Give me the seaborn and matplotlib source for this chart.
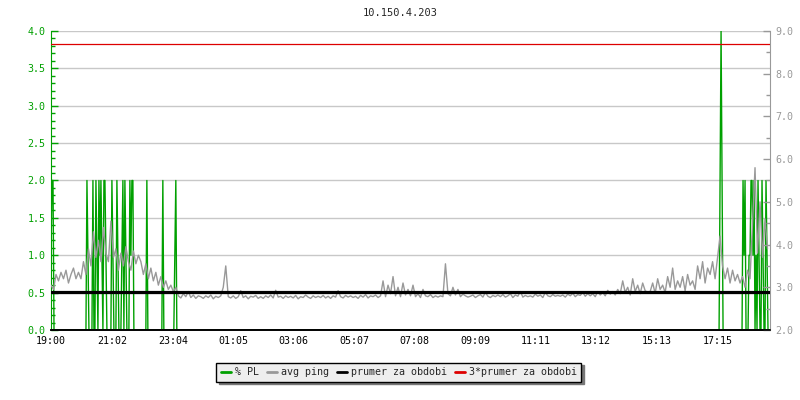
import numpy as np
import pandas as pd
import seaborn as sns
import matplotlib.pyplot as plt
from matplotlib.lines import Line2D
from matplotlib.ticker import MultipleLocator

# values
title = '10.150.4.203'
start_time = '19:00'
tick_labels = ['19:00', '21:02', '23:04', '01:05', '03:06', '05:07',
               '07:08', '09:09', '11:11', '13:12', '15:13', '17:15']

# avg ping (right axis), one value every 5 minutes, one row per hour from 19:00
ping_step = 5
avg_ping = [
    3.05, 2.95, 3.30, 3.15, 3.35, 3.20, 3.40, 3.10, 3.30, 3.45, 3.20, 3.35,
    3.20, 3.60, 3.30, 3.90, 3.50, 4.30, 3.70, 4.10, 3.60, 4.40, 3.80, 3.60,
    4.55, 3.70, 3.90, 3.40, 3.80, 3.50, 3.95, 3.60, 3.40, 3.85, 3.55, 3.75,
    3.60, 3.30, 3.55, 3.20, 3.45, 3.15, 3.35, 3.05, 3.25, 3.00, 3.15, 2.95,
    3.05, 2.90, 3.00, 2.80, 2.75, 2.85, 2.78, 2.90, 2.76, 2.82, 2.74, 2.80,
    2.78, 2.74, 2.80, 2.76, 2.82, 2.73, 2.79, 2.76, 2.80, 3.00, 3.50, 2.78,
    2.75, 2.80, 2.74, 2.78, 2.92, 2.76, 2.80, 2.73, 2.79, 2.77, 2.81, 2.74,
    2.78, 2.74, 2.80, 2.76, 2.82, 2.75, 2.93, 2.77, 2.79, 2.74, 2.80, 2.76,
    2.79, 2.75, 2.81, 2.73, 2.78, 2.76, 2.82, 2.77, 2.74, 2.80, 2.76, 2.79,
    2.76, 2.81, 2.75, 2.79, 2.74, 2.80, 2.77, 2.92, 2.78, 2.75, 2.81, 2.77,
    2.80, 2.76, 2.79, 2.74, 2.81, 2.77, 2.83, 2.75, 2.80, 2.78, 2.82, 2.76,
    2.80, 3.15, 2.78, 3.05, 2.85, 3.25, 2.80, 3.00, 2.78, 3.10, 2.82, 2.95,
    2.80, 3.05, 2.78, 2.85, 2.76, 2.95, 2.80, 2.78, 2.83, 2.76, 2.80, 2.77,
    2.80, 2.78, 3.55, 2.85, 2.80, 3.00, 2.82, 2.95, 2.78, 2.84, 2.80, 2.77,
    2.79, 2.82, 2.76, 2.80, 2.83, 2.77, 2.88, 2.79, 2.76, 2.81, 2.78, 2.82,
    2.78, 2.83, 2.77, 2.80, 2.85, 2.76, 2.82, 2.79, 2.90, 2.77, 2.81, 2.78,
    2.80, 2.77, 2.84, 2.79, 2.82, 2.76, 2.88, 2.80, 2.78, 2.83, 2.79, 2.81,
    2.79, 2.82, 2.77, 2.84, 2.80, 2.86, 2.78, 2.83, 2.81, 2.88, 2.79, 2.85,
    2.80, 2.85, 2.78, 2.90, 2.82, 2.88, 2.80, 2.93, 2.84, 2.90, 2.82, 2.95,
    2.85, 3.15, 2.88, 3.00, 2.82, 3.20, 2.90, 3.05, 2.85, 3.10, 2.92, 2.88,
    2.90, 3.10, 2.86, 3.20, 2.95, 3.05, 2.88, 3.25, 3.00, 3.45, 2.95, 3.15,
    3.00, 3.25, 2.92, 3.30, 3.05, 3.15, 2.95, 3.50, 3.20, 3.60, 3.10, 3.45,
    3.30, 3.60, 3.20, 3.70, 4.20, 3.50, 3.20, 3.45, 3.10, 3.40, 3.15, 3.30,
    3.10, 3.25, 3.00, 3.40, 3.20, 4.50, 5.80, 3.80, 5.00, 3.70, 4.60, 3.90,
]

# packet loss spikes (left axis): minute after 19:00, % PL
pl_minutes = [0, 2, 4, 72, 74, 84, 90, 92, 96, 98, 100, 102, 106, 108, 110,
              122, 124, 132, 134, 142, 144, 148, 150, 158, 160, 162, 164,
              192, 224, 248, 250,
              1340, 1342, 1344, 1386, 1388, 1390, 1398, 1400, 1402, 1404,
              1406, 1408, 1412, 1416, 1418, 1424, 1426, 1432, 1434]
pl_values = [1.0, 2.0, 2.0, 2.0, 1.0, 2.0, 2.0, 1.0, 2.0, 1.0, 2.0, 1.0, 2.0, 2.0, 1.0,
             2.0, 1.0, 2.0, 1.0, 1.0, 2.0, 2.0, 1.0, 2.0, 1.0, 2.0, 2.0,
             2.0, 2.0, 1.0, 2.0,
             2.0, 4.0, 2.0, 2.0, 1.0, 2.0, 1.0, 1.0, 2.0, 2.0,
             1.0, 2.0, 1.0, 2.0, 1.0, 2.0, 1.0, 2.0, 1.0]

ping_mean = 2.9          # prumer za obdobi
period_minutes = 1440

GREEN = '#00a000'
GRAY = '#999999'
RED = '#dd0000'
MONO = 'DejaVu Sans Mono'


def minutes_after_start(label):
    h, m = map(int, label.split(':'))
    h0, m0 = map(int, start_time.split(':'))
    return ((h * 60 + m) - (h0 * 60 + m0)) % period_minutes


ping_df = pd.DataFrame({'minute': np.arange(len(avg_ping)) * ping_step,
                        'ping': avg_ping})

pl_grid = np.arange(0, period_minutes, 2)
pl_series = pd.Series(0.0, index=pl_grid)
for m, v in zip(pl_minutes, pl_values):
    pl_series[m] = v
pl_df = pd.DataFrame({'minute': pl_series.index, 'pl': pl_series.values})

sns.set_style('white')
plt.rcParams['font.family'] = [MONO, 'DejaVu Sans']
plt.rcParams['font.size'] = 7.2

fig = plt.figure(figsize=(8, 4), dpi=100)
ax = fig.add_axes([51 / 800, 70 / 400, 719 / 800, 299 / 400])
ax2 = ax.twinx()

sns.lineplot(data=pl_df, x='minute', y='pl', ax=ax, color=GREEN,
             linewidth=1.0, legend=False)
sns.lineplot(data=ping_df, x='minute', y='ping', ax=ax2, color=GRAY,
             linewidth=1.0, legend=False)
ax2.axhline(ping_mean, color='black', linewidth=2.3, zorder=5)
ax2.axhline(3 * ping_mean, color=RED, linewidth=0.9, zorder=5)

ax.set_xlim(0, period_minutes)
ax.set_ylim(0, 4.0)
ax2.set_ylim(2.0, 9.0)

ax.set_xticks([minutes_after_start(t) for t in tick_labels])
ax.set_xticklabels(tick_labels)
ax.yaxis.set_major_locator(MultipleLocator(0.5))
ax.yaxis.set_minor_locator(MultipleLocator(0.1))
ax.yaxis.set_major_formatter(plt.FormatStrFormatter('%.1f'))
ax2.yaxis.set_major_locator(MultipleLocator(1.0))
ax2.yaxis.set_minor_locator(MultipleLocator(0.5))
ax2.yaxis.set_major_formatter(plt.FormatStrFormatter('%.1f'))

ax.grid(axis='y', color='#c8c8c8', linewidth=1.0)
ax.set_axisbelow(True)
ax.set_xlabel('')
ax.set_ylabel('')
ax2.set_ylabel('')

ax.tick_params(axis='x', direction='in', length=5, width=1, colors='black',
               labelsize=7.2, pad=4)
ax.tick_params(axis='y', which='major', direction='in', length=5, width=1,
               colors=GREEN, labelsize=7.2, pad=4)
ax.tick_params(axis='y', which='minor', direction='in', length=3, width=1,
               colors=GREEN)
ax2.tick_params(axis='y', which='major', direction='in', length=5, width=1,
                colors=GRAY, labelsize=7.2, pad=4)
ax2.tick_params(axis='y', which='minor', direction='in', length=3, width=1,
                colors=GRAY)

for a in (ax, ax2):
    a.spines['top'].set_visible(False)
    a.spines['left'].set_color(GREEN)
    a.spines['right'].set_color(GRAY)
    a.spines['bottom'].set_color('black')
    a.spines['bottom'].set_linewidth(1.2)
ax2.spines['left'].set_visible(False)
ax.spines['right'].set_visible(False)

fig.text(0.5, 0.967, title, ha='center', va='center', fontsize=7.5)

handles = [Line2D([], [], color=GREEN, linewidth=2),
           Line2D([], [], color=GRAY, linewidth=2),
           Line2D([], [], color='black', linewidth=2),
           Line2D([], [], color=RED, linewidth=2)]
labels = ['% PL', 'avg ping', 'prumer za obdobi', '3*prumer za obdobi']
leg = fig.legend(handles, labels, loc='center', bbox_to_anchor=(0.4985, 0.07),
                 ncol=4, frameon=True, fancybox=False, shadow={'color': '#777777', 'alpha': 1},
                 handlelength=1.0, handletextpad=0.4, columnspacing=0.8,
                 borderpad=0.45, fontsize=7.2)
leg.get_frame().set_facecolor('#eeeeee')
leg.get_frame().set_edgecolor('black')
leg.get_frame().set_linewidth(1.0)

fig.savefig('out.png', dpi=100)
